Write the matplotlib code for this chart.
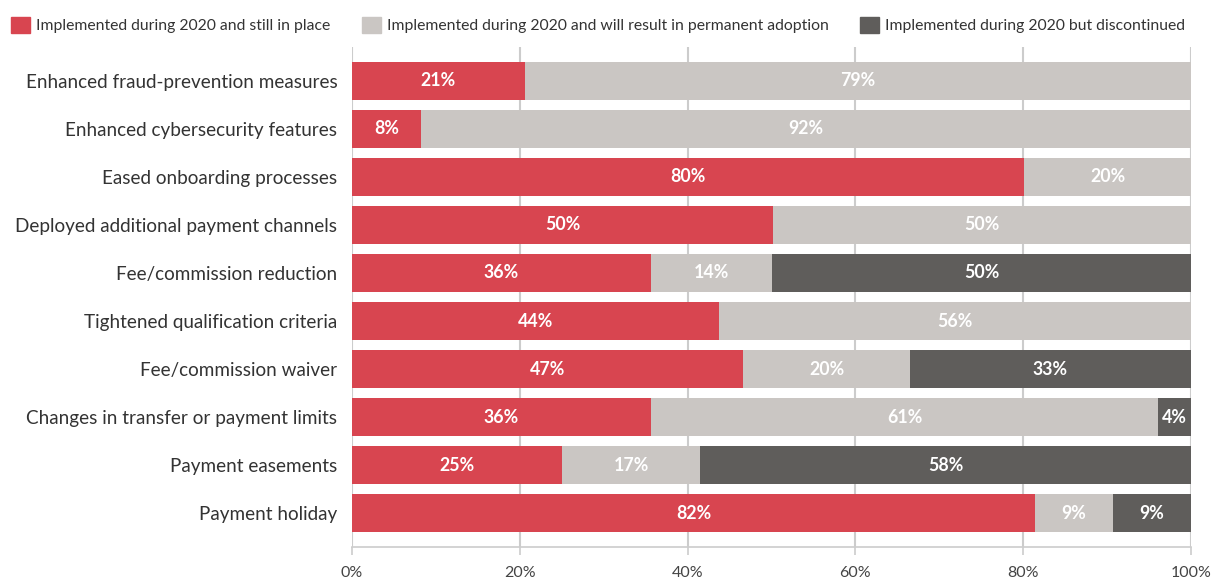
import numpy as np
import matplotlib.pyplot as plt

# categories (top to bottom)
categories = ['Enhanced fraud-prevention measures', 'Enhanced cybersecurity features',
              'Eased onboarding processes', 'Deployed additional payment channels',
              'Fee/commission reduction', 'Tightened qualification criteria',
              'Fee/commission waiver', 'Changes in transfer or payment limits',
              'Payment easements', 'Payment holiday']

# shares in percent
still_in_place = [20.6, 8.2, 80.1, 50.2, 35.6, 43.7, 46.6, 35.6, 25.0, 81.4]
permanent = [79.4, 91.8, 19.9, 49.8, 14.5, 56.3, 19.9, 60.5, 16.5, 9.3]
discontinued = [0, 0, 0, 0, 49.9, 0, 33.5, 3.9, 58.5, 9.3]

# value labels shown on the bars
lbl_still = ['21%', '8%', '80%', '50%', '36%', '44%', '47%', '36%', '25%', '82%']
lbl_perm = ['79%', '92%', '20%', '50%', '14%', '56%', '20%', '61%', '17%', '9%']
lbl_disc = ['', '', '', '', '50%', '', '33%', '4%', '58%', '9%']

series_names = ['Implemented during 2020 and still in place',
                'Implemented during 2020 and will result in permanent adoption',
                'Implemented during 2020 but discontinued']
colors = ['#d84550', '#cac6c3', '#5f5d5b']

plt.rcParams['font.family'] = ['Lato', 'DejaVu Sans']

fig = plt.figure(figsize=(12.13, 5.83), dpi=100)
ax = fig.add_axes([352 / 1213, 1 - 547 / 583, (1191 - 352) / 1213, 500 / 583])

y = np.arange(len(categories))
left = np.zeros(len(categories))
for vals, labels, col in zip([still_in_place, permanent, discontinued],
                             [lbl_still, lbl_perm, lbl_disc], colors):
    vals = np.array(vals)
    bars = ax.barh(y, vals, left=left, height=0.79, color=col, zorder=2)
    for b, v, t in zip(bars, vals, labels):
        if t:
            ax.text(b.get_x() + v / 2, b.get_y() + b.get_height() / 2, t,
                    ha='center', va='center', color='white',
                    fontsize=12.8, fontweight='bold', zorder=3)
    left = left + vals

ax.set_xlim(0, 100)
ax.set_ylim(len(categories) - 1 + 0.708, -0.708)
ax.set_yticks(y)
ax.set_yticklabels(categories, fontsize=13.6, color='#333333')
ax.tick_params(axis='y', length=0, pad=10.5)
ax.set_xticks(np.arange(0, 101, 20))
ax.set_xticklabels([f'{v}%' for v in range(0, 101, 20)], fontsize=11.5, color='#444444')
ax.tick_params(axis='x', length=6, color='#cccccc', width=1.2, pad=8)
ax.grid(axis='x', color='#cccccc', linewidth=1.5, zorder=0)
ax.set_axisbelow(True)
for s in ['top', 'right', 'left']:
    ax.spines[s].set_visible(False)
ax.spines['bottom'].set_color('#cccccc')
ax.spines['bottom'].set_linewidth(1.2)

# legend row at top
handles = [plt.Rectangle((0, 0), 1, 1, color=c) for c in colors]
fig.legend(handles, series_names, loc='upper left', bbox_to_anchor=(0.0, 0.99),
           ncol=3, frameon=False, fontsize=11.3, labelcolor='#333333',
           handlelength=1.2, handleheight=1.2, handletextpad=0.4,
           columnspacing=2.0, borderaxespad=0.4, borderpad=0.3)

fig.savefig('out.png', dpi=100)
